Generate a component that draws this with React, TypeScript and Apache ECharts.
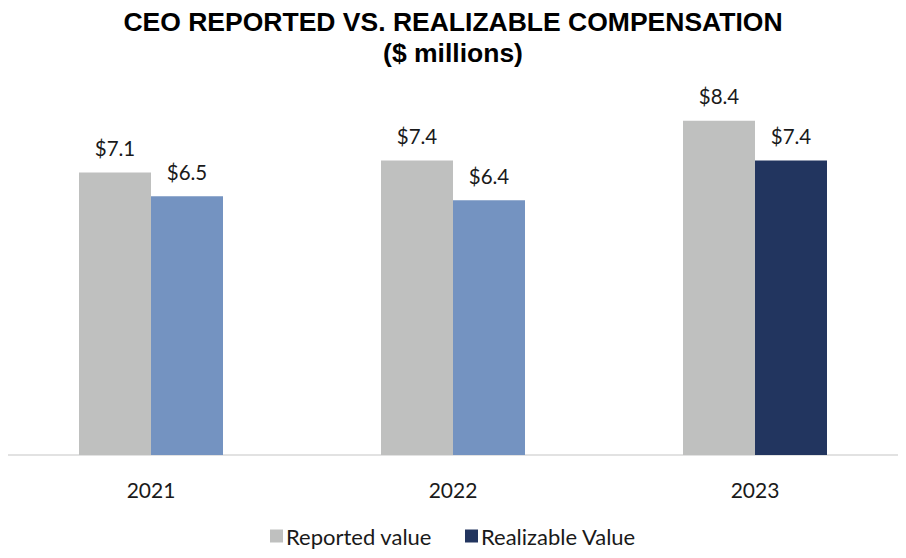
import React, { useEffect, useRef } from "react";
import * as echarts from "echarts";

const categories = ["2021", "2022", "2023"];
const reported = [7.1, 7.4, 8.4];
const realizable = [6.5, 6.4, 7.4];
const realizableColors = ["#7493C1", "#7493C1", "#22355F"];
const seriesNames = ["Reported value", "Realizable Value"];

export default function App() {
  const ref = useRef<HTMLDivElement>(null);
  useEffect(() => {
    const chart = echarts.init(ref.current!, null, { renderer: "svg" });
    const labelFont = {
      show: true,
      position: "top",
      distance: 14,
      fontFamily: "Lato, 'Open Sans', sans-serif",
      fontSize: 20.5,
      color: "#1a1a1a",
      formatter: (p: any) => "$" + p.value.toFixed(1),
    };
    chart.setOption({
      animation: false,
      backgroundColor: "#ffffff",
      title: {
        text: "CEO REPORTED VS. REALIZABLE COMPENSATION\n($ millions)",
        left: "center",
        top: 1,
        textStyle: {
          fontFamily: "'Liberation Sans', Arial, sans-serif",
          fontWeight: "bold",
          fontSize: 26.5,
          lineHeight: 31,
          color: "#000000",
        },
      },
      legend: {
        bottom: 6,
        left: "center",
        itemWidth: 13,
        itemHeight: 13,
        itemGap: 33,
        icon: "rect",
        textStyle: {
          fontFamily: "Lato, 'Open Sans', sans-serif",
          fontSize: 22,
          color: "#1a1a1a",
          padding: [0, 0, 0, -2],
        },
        data: [
          { name: seriesNames[0], itemStyle: { color: "#BFC0BF" } },
          { name: seriesNames[1], itemStyle: { color: "#22355F" } },
        ],
      },
      grid: { left: 0, right: 0, top: 57, bottom: 103, containLabel: false },
      xAxis: {
        type: "category",
        data: categories,
        axisLine: { lineStyle: { color: "#D9D9D9", width: 1.5 } },
        axisTick: { show: false },
        axisLabel: {
          margin: 24,
          fontFamily: "Lato, 'Open Sans', sans-serif",
          fontSize: 21,
          color: "#1a1a1a",
        },
      },
      yAxis: {
        type: "value",
        min: 0,
        max: 10,
        show: false,
        splitLine: { show: false },
      },
      series: [
        {
          name: seriesNames[0],
          type: "bar",
          data: reported,
          barWidth: 72,
          barGap: "0%",
          itemStyle: { color: "#BFC0BF" },
          label: labelFont,
        },
        {
          name: seriesNames[1],
          type: "bar",
          data: realizable.map((v, i) => ({ value: v, itemStyle: { color: realizableColors[i] } })),
          barWidth: 72,
          barGap: "0%",
          itemStyle: { color: "#22355F" },
          label: labelFont,
        },
      ],
    });
    return () => chart.dispose();
  }, []);
  return <div ref={ref} style={{ width: 906, height: 558, margin: -8 }} />;
}
